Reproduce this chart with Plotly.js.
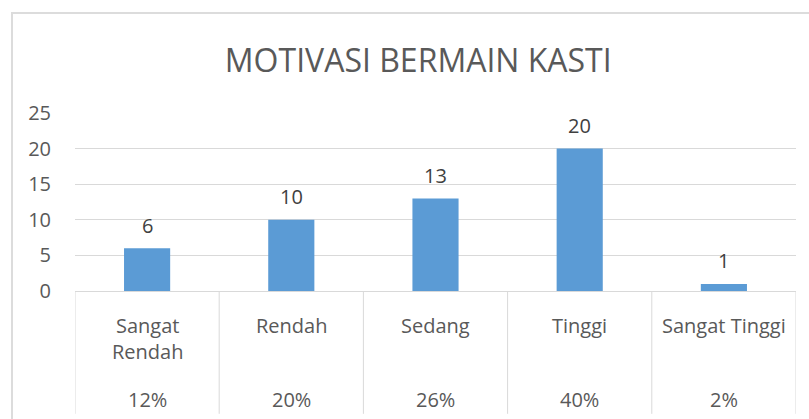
<!DOCTYPE html>
<html>
<head>
<meta charset="utf-8">
<script src="https://cdn.plot.ly/plotly-3.0.1.min.js"></script>
<style>
  html, body { margin: 0; padding: 0; background: #ffffff; }
  #frame { position: absolute; left: 11px; top: 12px; width: 830px; height: 430px; border: 2px solid #dcdcdc; box-sizing: border-box; }
  #chart { position: absolute; left: 0; top: 0; width: 809px; height: 419px; }
</style>
</head>
<body>
<div id="frame"></div>
<div id="chart"></div>
<script>
// ---- data ----
const categories = ["Sangat Rendah", "Rendah", "Sedang", "Tinggi", "Sangat Tinggi"];
const categoryLabels = ["Sangat<br>Rendah", "Rendah", "Sedang", "Tinggi", "Sangat Tinggi"];
const counts = [6, 10, 13, 20, 1];
const percentLabels = ["12%", "20%", "26%", "40%", "2%"];
const yTicks = [0, 5, 10, 15, 20, 25];
const chartTitle = "MOTIVASI BERMAIN KASTI";

const FONT = "Open Sans, Lato, DejaVu Sans, sans-serif";
const textGrey = "#595959";
const lineGrey = "#d9d9d9";

const annotations = [];
const shapes = [];
categories.forEach((c, i) => {
  // value labels above bars
  annotations.push({
    x: c, y: counts[i], xref: "x", yref: "y",
    text: String(counts[i]), showarrow: false,
    yanchor: "middle", yshift: 23,
    font: { family: FONT, size: 20, color: "#404040" }
  });
  // category names
  annotations.push({
    x: c, y: -0.105, xref: "x", yref: "paper",
    text: categoryLabels[i], showarrow: false,
    yanchor: "top",
    font: { family: FONT, size: 20, color: textGrey }
  });
  // percentages
  annotations.push({
    x: c, y: -0.607, xref: "x", yref: "paper",
    text: percentLabels[i], showarrow: false,
    yanchor: "middle",
    font: { family: FONT, size: 20, color: textGrey }
  });
});
for (let i = 0; i <= categories.length; i++) {
  shapes.push({
    type: "line", xref: "x", yref: "paper",
    x0: i - 0.5, x1: i - 0.5, y0: 0, y1: -0.69,
    line: { color: lineGrey, width: 1 }
  });
}

const trace = {
  type: "bar",
  x: categories,
  y: counts,
  marker: { color: "#5b9bd5" },
  width: 0.32,
  hoverinfo: "x+y"
};

const layout = {
  width: 809, height: 419,
  margin: { l: 75, r: 13, t: 113, b: 128, pad: 0 },
  paper_bgcolor: "rgba(0,0,0,0)",
  plot_bgcolor: "rgba(0,0,0,0)",
  showlegend: false,
  title: {
    text: chartTitle,
    xref: "container", yref: "container",
    x: 0.517, xanchor: "center",
    y: 0.855, yanchor: "middle",
    font: { family: FONT, size: 32, color: textGrey }
  },
  xaxis: {
    type: "category",
    range: [-0.5, categories.length - 0.5],
    showticklabels: false,
    showgrid: false,
    zeroline: false,
    showline: true, linecolor: lineGrey, linewidth: 1,
    ticks: "", fixedrange: true
  },
  yaxis: {
    range: [0, 25],
    tickvals: yTicks,
    showgrid: true, gridcolor: lineGrey, gridwidth: 1,
    zeroline: false, showline: false,
    ticks: "outside", ticklen: 19, tickcolor: "rgba(0,0,0,0)",
    tickfont: { family: FONT, size: 20, color: textGrey },
    fixedrange: true
  },
  annotations: annotations,
  shapes: shapes
};

Plotly.newPlot("chart", [trace], layout, { displayModeBar: false, staticPlot: true });
</script>
</body>
</html>
